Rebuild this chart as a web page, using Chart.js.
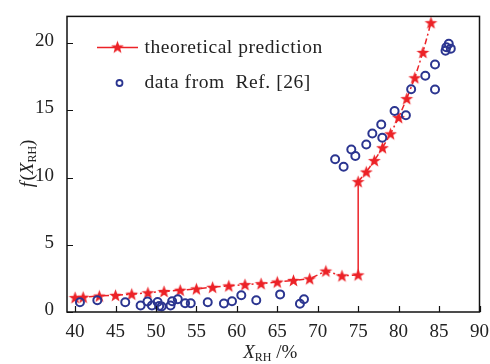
<!DOCTYPE html>
<html>
<head>
<meta charset="utf-8">
<script src="https://cdn.jsdelivr.net/npm/chart.js@4.4.0/dist/chart.umd.min.js"></script>
<style>
  html, body { margin: 0; padding: 0; background: #fff; }
  #wrap { width: 490px; height: 364px; position: relative; }
</style>
</head>
<body>
<div id="wrap"><canvas id="c" width="490" height="364"></canvas></div>
<script>
// ---- data ----
const theoryX = [40, 41, 43, 45, 47, 49, 51, 53, 55, 57, 59, 61, 63, 65, 67, 69, 71, 73, 75, 75, 76, 77, 78, 79, 80, 81, 82, 83, 84];
const theoryY = [1.07, 1.10, 1.19, 1.24, 1.33, 1.43, 1.53, 1.62, 1.72, 1.84, 1.94, 2.04, 2.11, 2.23, 2.35, 2.47, 3.05, 2.69, 2.76, 9.70, 10.42, 11.27, 12.22, 13.26, 14.47, 15.88, 17.43, 19.32, 21.53];
const refX = [40.6, 42.75, 46.2, 48.1, 48.95, 49.5, 50.2, 50.4, 50.7, 51.8, 52.0, 52.7, 53.6, 54.3, 56.4, 58.4, 59.4, 60.55, 62.4, 65.35, 67.8, 68.3, 72.15, 73.2, 74.15, 74.65, 76.0, 76.75, 77.85, 77.98, 79.5, 80.9, 81.55, 83.3, 84.5, 84.5, 85.8, 85.9, 86.2, 86.45];
const refY = [0.73, 0.87, 0.73, 0.48, 0.78, 0.48, 0.75, 0.45, 0.41, 0.48, 0.80, 0.95, 0.65, 0.65, 0.73, 0.63, 0.80, 1.24, 0.87, 1.31, 0.61, 0.95, 11.37, 10.81, 12.10, 11.61, 12.46, 13.28, 13.96, 12.97, 14.96, 14.64, 16.58, 17.58, 18.42, 16.56, 19.44, 19.70, 19.97, 19.60];
const xTicks = [40, 45, 50, 55, 60, 65, 70, 75, 80, 85, 90];
const yTicks = [0, 5, 10, 15, 20];
const seriesNames = ['theoretical prediction', 'data from  Ref. [26]'];

// ---- styles ----
const RED = '#ec2227';
const NAVY = '#2b3590';
const FONT = '"Liberation Serif", "Times New Roman", serif';
const DASH = [6, 3, 2, 3];

function makeStar(size, rOut, rIn, color) {
  const c = document.createElement('canvas');
  c.width = size; c.height = size;
  const g = c.getContext('2d');
  g.fillStyle = color;
  g.beginPath();
  for (let i = 0; i < 10; i++) {
    const r = i % 2 === 0 ? rOut : rIn;
    const a = -Math.PI / 2 + i * Math.PI / 5;
    const px = size / 2 + r * Math.cos(a), py = size / 2 + 0.5 + r * Math.sin(a);
    if (i === 0) g.moveTo(px, py); else g.lineTo(px, py);
  }
  g.closePath();
  g.fill();
  return c;
}
const starImg = makeStar(15, 6.8, 2.8, RED);

const frameAndExtras = {
  id: 'frameAndExtras',
  afterDraw(chart) {
    const { ctx, chartArea: a, scales } = chart;
    ctx.save();
    // frame
    ctx.strokeStyle = '#111';
    ctx.lineWidth = 1.5;
    ctx.strokeRect(a.left, a.top, a.right - a.left, a.bottom - a.top);
    // inward ticks
    ctx.lineWidth = 1.2;
    ctx.beginPath();
    xTicks.forEach(v => {
      const px = Math.round(scales.x.getPixelForValue(v)) + 0.5;
      ctx.moveTo(px, a.bottom); ctx.lineTo(px, a.bottom - 6);
    });
    yTicks.forEach(v => {
      const py = Math.round(scales.y.getPixelForValue(v)) + 0.5;
      ctx.moveTo(a.left, py); ctx.lineTo(a.left + 6, py);
    });
    ctx.stroke();

    // legend
    const lx = 97, ly1 = 47.5, ly2 = 83;
    ctx.strokeStyle = RED; ctx.lineWidth = 1.5; ctx.setLineDash([]);
    ctx.beginPath(); ctx.moveTo(lx, ly1); ctx.lineTo(lx + 41, ly1); ctx.stroke();
    ctx.drawImage(starImg, lx + 20.5 - 7.5, ly1 - 8);
    ctx.strokeStyle = NAVY; ctx.lineWidth = 1.8;
    ctx.beginPath(); ctx.arc(119.5, ly2, 3, 0, Math.PI * 2); ctx.stroke();
    ctx.fillStyle = '#222';
    ctx.font = '19.5px ' + FONT;
    ctx.textBaseline = 'middle';
    ctx.textAlign = 'left';
    if ('letterSpacing' in ctx) ctx.letterSpacing = '0.55px';
    ctx.fillText(seriesNames[0], 144.5, ly1);
    ctx.fillText(seriesNames[1], 144.5, ly2);
    if ('letterSpacing' in ctx) ctx.letterSpacing = '0px';

    // x axis title: X_RH /%
    const cx = (a.left + a.right) / 2 - 3;
    const base = 358;
    ctx.textBaseline = 'alphabetic';
    const fMain = 'italic 19px ' + FONT, fSub = '12px ' + FONT, fRom = '19px ' + FONT;
    ctx.font = fMain; const wX = ctx.measureText('X').width;
    ctx.font = fSub; const wS = ctx.measureText('RH').width;
    ctx.font = fRom; const wP = ctx.measureText(' /%').width;
    let x0 = cx - (wX + wS + wP) / 2;
    ctx.font = fMain; ctx.fillText('X', x0, base); x0 += wX;
    ctx.font = fSub; ctx.fillText('RH', x0, base + 3); x0 += wS;
    ctx.font = fRom; ctx.fillText(' /%', x0, base);

    // y axis title: f(X_RH)
    ctx.translate(33, (a.top + a.bottom) / 2);
    ctx.rotate(-Math.PI / 2);
    const parts = [
      ['f', fMain, 0], ['(', fRom, 0], ['X', fMain, 0], ['RH', fSub, 3], [')', fRom, 0]
    ];
    let tot = 0;
    parts.forEach(p => { ctx.font = p[1]; p.push(ctx.measureText(p[0]).width); tot += p[3]; });
    let yx = -tot / 2;
    parts.forEach(p => { ctx.font = p[1]; ctx.fillText(p[0], yx, p[2]); yx += p[3] + (p[0] === 'f' ? 1.5 : 0); });
    ctx.restore();
  }
};

new Chart(document.getElementById('c'), {
  type: 'scatter',
  data: {
    datasets: [
      {
        label: seriesNames[1],
        data: refX.map((x, i) => ({ x, y: refY[i] })),
        pointStyle: 'circle',
        pointRadius: 4,
        pointBorderWidth: 2,
        pointBorderColor: NAVY,
        pointBackgroundColor: 'rgba(0,0,0,0)',
        showLine: false,
        order: 1
      },
      {
        label: seriesNames[0],
        type: 'line',
        data: theoryX.map((x, i) => ({ x, y: theoryY[i] })),
        borderColor: RED,
        borderWidth: 1.5,
        pointStyle: starImg,
        pointRadius: 6,
        tension: 0,
        fill: false,
        segment: {
          borderDash: c => (c.p0.parsed.x === c.p1.parsed.x ? [] : DASH)
        },
        order: 2
      }
    ]
  },
  options: {
    responsive: false,
    animation: false,
    devicePixelRatio: 1,
    layout: { padding: { left: 0, right: 9, top: 10, bottom: 0 } },
    plugins: { legend: { display: false }, tooltip: { enabled: false } },
    scales: {
      x: {
        type: 'linear',
        min: 39, max: 90,
        afterBuildTicks: s => { s.ticks = xTicks.map(v => ({ value: v })); },
        afterFit: s => { s.height = 52; },
        grid: { display: false },
        border: { display: false },
        ticks: { color: '#222', font: { family: FONT, size: 19 }, padding: 1, maxRotation: 0, autoSkip: false }
      },
      y: {
        type: 'linear',
        min: 0, max: 22,
        afterBuildTicks: s => { s.ticks = yTicks.map(v => ({ value: v })); },
        afterFit: s => { s.width = 67; },
        grid: { display: false },
        border: { display: false },
        ticks: { color: '#222', font: { family: FONT, size: 19 }, padding: 5, labelOffset: -2, autoSkip: false }
      }
    }
  },
  plugins: [frameAndExtras]
});
</script>
</body>
</html>
